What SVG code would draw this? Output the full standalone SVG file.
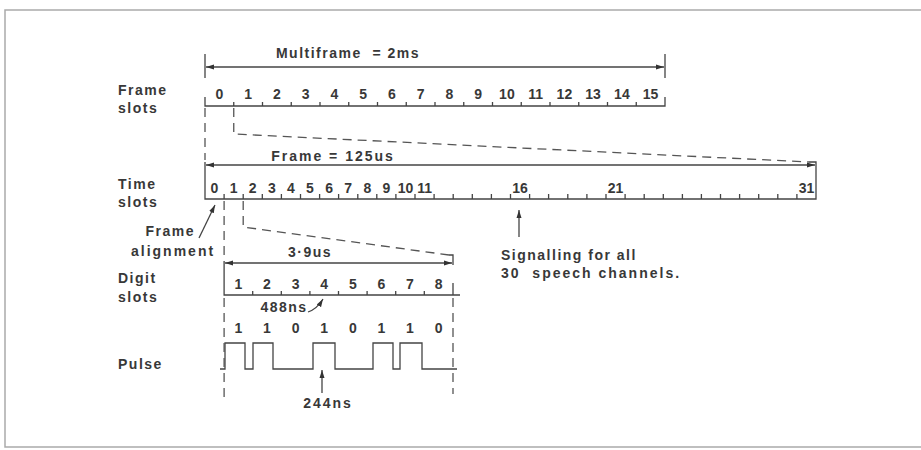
<svg xmlns="http://www.w3.org/2000/svg" width="921" height="450" viewBox="0 0 921 450">
<defs>
<marker id="ah" markerWidth="9" markerHeight="7" refX="8" refY="3.5" orient="auto-start-reverse" markerUnits="userSpaceOnUse"><path d="M0,1 L8,3.5 L0,6 Z" fill="#333"/></marker>
</defs>
<style>
text{font-family:"Liberation Sans",Arial,sans-serif;font-weight:bold;font-size:14px;fill:#383838;letter-spacing:1.5px}
.num{letter-spacing:0;text-anchor:middle}
.c{text-anchor:middle}
.e{text-anchor:end}
.w{letter-spacing:2px}
.ln{stroke:#444;stroke-width:1.3;fill:none}
.dash{stroke:#555;stroke-width:1.3;fill:none;stroke-dasharray:9 6}
.border{stroke:#aaa;stroke-width:1.5;fill:none}
.arr{stroke:#444;stroke-width:1.3;fill:none;marker-end:url(#ah)}
.arr2{stroke:#444;stroke-width:1.3;fill:none;marker-end:url(#ah);marker-start:url(#ah)}
</style>
<rect width="921" height="450" fill="#fff"/>
<path class="border" d="M921,10 H5 V447 H921"/>

<g id="frame-slots">
<text x="348" y="58" class="c" xml:space="preserve">Multiframe  = 2ms</text>
<text x="118" y="95">Frame</text>
<text x="118" y="113">slots</text>
<path class="ln" d="M205,54 V78 M665,54 V78"/>
<path class="ln" d="M205,97 V106 H665 V97 M233.75,106 v-4 M262.5,106 v-4 M291.25,106 v-4 M320,106 v-4 M348.75,106 v-4 M377.5,106 v-4 M406.25,106 v-4 M435,106 v-4 M463.75,106 v-4 M492.5,106 v-4 M521.25,106 v-4 M550,106 v-4 M578.75,106 v-4 M607.5,106 v-4 M636.25,106 v-4"/>
<text class="num" x="219.4" y="99">0</text>
<text class="num" x="248.1" y="99">1</text>
<text class="num" x="276.9" y="99">2</text>
<text class="num" x="305.6" y="99">3</text>
<text class="num" x="334.4" y="99">4</text>
<text class="num" x="363.1" y="99">5</text>
<text class="num" x="391.9" y="99">6</text>
<text class="num" x="420.6" y="99">7</text>
<text class="num" x="449.4" y="99">8</text>
<text class="num" x="478.1" y="99">9</text>
<text class="num" x="506.9" y="99">10</text>
<text class="num" x="535.6" y="99">11</text>
<text class="num" x="564.4" y="99">12</text>
<text class="num" x="593.1" y="99">13</text>
<text class="num" x="621.9" y="99">14</text>
<text class="num" x="650.6" y="99">15</text>
</g>

<g id="time-slots">
<text x="333" y="161" class="c w">Frame = 125us</text>
<text x="118" y="189">Time</text>
<text x="118" y="207">slots</text>
<path class="ln" d="M205,162 V199 H816 V162 H809"/>
<path class="ln" d="M224.1,199 v-5 M243.2,199 v-5 M262.3,199 v-5 M281.4,199 v-5 M300.5,199 v-5 M319.6,199 v-5 M338.6,199 v-5 M357.8,199 v-5 M376.8,199 v-5 M395.9,199 v-5 M415,199 v-5 M434.1,199 v-5 M453.2,199 v-5 M472.3,199 v-5 M491.4,199 v-5 M510.5,199 v-5 M529.6,199 v-5 M548.6,199 v-5 M567.8,199 v-5 M586.9,199 v-5 M606,199 v-5 M625.1,199 v-5 M644.2,199 v-5 M663.3,199 v-5 M682.4,199 v-5 M701.4,199 v-5 M720.5,199 v-5 M739.6,199 v-5 M758.7,199 v-5 M777.8,199 v-5 M796.9,199 v-5"/>
<text class="num" x="214.5" y="193">0</text>
<text class="num" x="233.6" y="193">1</text>
<text class="num" x="252.7" y="193">2</text>
<text class="num" x="271.8" y="193">3</text>
<text class="num" x="290.9" y="193">4</text>
<text class="num" x="310" y="193">5</text>
<text class="num" x="329.1" y="193">6</text>
<text class="num" x="348.2" y="193">7</text>
<text class="num" x="367.3" y="193">8</text>
<text class="num" x="386.4" y="193">9</text>
<text class="num" x="405.5" y="193">10</text>
<text class="num" x="424.6" y="193">11</text>
<text class="num" x="520" y="193">16</text>
<text class="num" x="615.5" y="193">21</text>
<text class="num" x="806.5" y="193">31</text>
</g>

<g id="frame-alignment">
<text x="195" y="236" class="e">Frame</text>
<text x="131" y="256" class="w">alignment</text>
</g>

<g id="signalling">
<text x="501" y="260">Signalling for all</text>
<text x="501" y="278" class="w" xml:space="preserve">30  speech channels.</text>
</g>

<g id="digit-slots">
<text x="310" y="257" class="c">3·9us</text>
<text x="118" y="283">Digit</text>
<text x="118" y="302">slots</text>
<path class="ln" d="M224.1,261 V295 H460 M453,283 V295 M449,255 H453 V265"/>
<path class="ln" d="M252.7,295 v-4 M281.3,295 v-4 M309.9,295 v-4 M338.5,295 v-4 M367.1,295 v-4 M395.7,295 v-4 M424.3,295 v-4"/>
<text class="num" x="238.4" y="289">1</text>
<text class="num" x="267" y="289">2</text>
<text class="num" x="295.6" y="289">3</text>
<text class="num" x="324.2" y="289">4</text>
<text class="num" x="352.8" y="289">5</text>
<text class="num" x="381.4" y="289">6</text>
<text class="num" x="410" y="289">7</text>
<text class="num" x="438.6" y="289">8</text>
<text x="284" y="312" class="c">488ns</text>
</g>

<g id="pulse">
<text class="num" x="238.4" y="333">1</text>
<text class="num" x="267" y="333">1</text>
<text class="num" x="295.6" y="333">0</text>
<text class="num" x="324.2" y="333">1</text>
<text class="num" x="352.8" y="333">0</text>
<text class="num" x="381.4" y="333">1</text>
<text class="num" x="410" y="333">1</text>
<text class="num" x="438.6" y="333">0</text>
<text x="118" y="369">Pulse</text>
<path class="ln" d="M220,369 H225 V343 H245 V369 H253 V343 H273 V369 H313 V343 H335 V369 H373 V343 H393 V369 H400 V343 H422 V369 H457"/>
<text x="328" y="408" class="c w">244ns</text>
</g>

<g id="connectors">
<line class="arr2" x1="206" y1="67" x2="664" y2="67"/>
<line class="arr2" x1="206" y1="165" x2="815" y2="165"/>
<line class="arr2" x1="225" y1="263" x2="452" y2="263"/>
<path class="dash" d="M205,108 V160"/>
<path class="dash" d="M233.75,108 V134 L809,162"/>
<path class="dash" d="M224.1,201 V261"/>
<path class="dash" d="M224.1,298 V398"/>
<path class="dash" d="M243.2,201 V227 L449,255"/>
<path class="dash" d="M453,298 V394"/>
<line class="arr" x1="199" y1="238" x2="215" y2="205"/>
<line class="arr" x1="519" y1="237" x2="519" y2="210"/>
<path class="arr" d="M308,312 Q317,309 323,299"/>
<line class="arr" x1="322" y1="393" x2="322" y2="370"/>
</g>
</svg>
